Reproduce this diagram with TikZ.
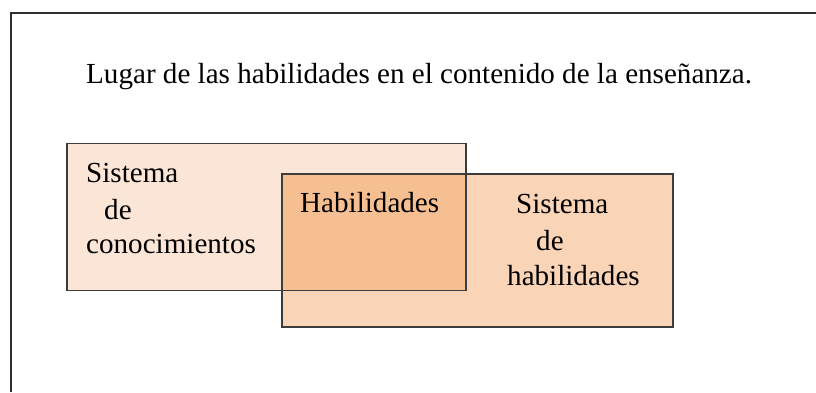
\documentclass[tikz,border=0pt]{standalone}
\usepackage{fontspec}
\setmainfont{Liberation Serif}
\definecolor{leftfill}{HTML}{FBE5D6}
\definecolor{rightfill}{HTML}{FAD4B6}
\definecolor{overfill}{HTML}{F6BF91}
\definecolor{edge}{HTML}{3C3C3C}
\definecolor{frameedge}{HTML}{2E2E2E}
\tikzset{
  boxline/.style={draw=edge, line width=1.3pt},
  lbl/.style={anchor=base west, inner sep=0pt, font=\fontsize{29.1}{35}\selectfont, text=black},
  area/.style={anchor=north west, inner sep=0pt, outer sep=0pt, draw=none}
}
\begin{document}
\begin{tikzpicture}[x=1pt,y=-1pt]
\useasboundingbox (0,0) rectangle (816,392);
\fill[white] (0,0) rectangle (816,392);
% outer frame
\draw[draw=frameedge, line width=2pt] (10.5,392) -- (10.5,13) -- (816,13);
% title
\node[lbl] (title) at (86,83) {Lugar de las habilidades en el contenido de la enseñanza.};
% boxes
\node[area, fill=leftfill, minimum width=399pt, minimum height=147pt] (conoc) at (67,143.5) {};
\node[area, fill=rightfill, minimum width=391pt, minimum height=153pt] (habil) at (282,174) {};
\fill[overfill] (habil.north west) rectangle (conoc.south east);
\node[area, minimum width=184pt, minimum height=116.5pt] (inter) at (282,174) {};
\draw[boxline] (conoc.north west) rectangle (conoc.south east);
\draw[boxline] (habil.north west) rectangle (habil.south east);
% texts left
\node[lbl] (s1) at (86,182) {Sistema};
\node[lbl] (s2) at (104,219) {de};
\node[lbl] (s3) at (86,253) {conocimientos};
% overlap text
\node[lbl] (h) at (300,212) {Habilidades};
% right texts
\node[lbl] (r1) at (516,213) {Sistema};
\node[lbl] (r2) at (536,250) {de};
\node[lbl] (r3) at (507,285) {habilidades};
\end{tikzpicture}
\end{document}
